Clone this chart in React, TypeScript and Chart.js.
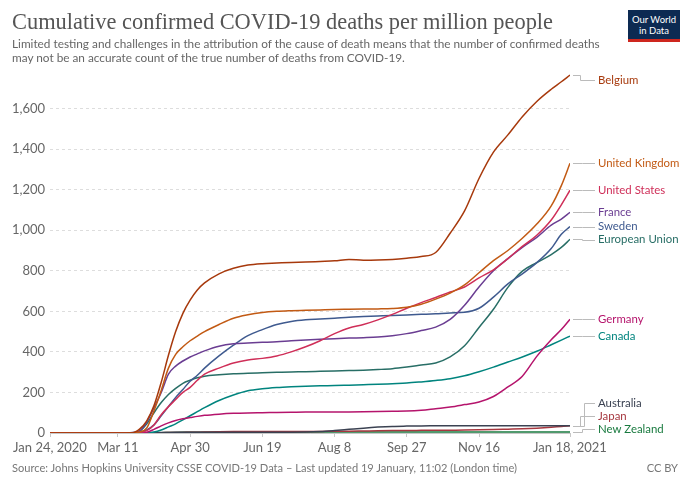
import React, { useEffect, useRef } from "react";
import { Chart, registerables } from "chart.js";

Chart.register(...registerables);

// Day offsets from Jan 24, 2020
const days = [0, 40, 47, 52, 57, 62, 67, 72, 77, 82, 87, 92, 97, 102, 107, 117, 127, 137, 147, 157, 167, 177, 187, 197, 207, 217, 227, 237, 247, 257, 267, 277, 287, 297, 307, 317, 327, 337, 347, 354, 360];

const tickDays = [0, 47, 97, 147, 197, 247, 297, 360];
const tickLabels = ["Jan 24, 2020", "Mar 11", "Apr 30", "Jun 19", "Aug 8", "Sep 27", "Nov 16", "Jan 18, 2021"];
const yTicks = [0, 200, 400, 600, 800, 1000, 1200, 1400, 1600];

const belgium = [0, 0, 0, 0.3, 1, 19, 60, 135, 250, 383, 500, 590, 655, 705, 740, 785, 812, 828, 835, 838, 841, 843, 846, 849, 856, 852, 853, 856, 862, 870, 890, 985, 1095, 1255, 1385, 1470, 1560, 1635, 1695, 1732, 1765];
const unitedKingdom = [0, 0, 0, 0.2, 1, 5, 25, 110, 210, 320, 388, 425, 455, 478, 500, 535, 566, 583, 594, 600, 603, 605, 607, 609, 610, 611, 612, 614, 620, 635, 660, 690, 730, 790, 850, 900, 960, 1030, 1120, 1220, 1330];
const unitedStates = [0, 0, 0, 0.1, 0.5, 3, 12, 40, 90, 130, 165, 200, 225, 260, 290, 320, 345, 360, 368, 380, 400, 425, 455, 490, 518, 535, 558, 585, 615, 643, 668, 695, 720, 765, 805, 860, 920, 975, 1050, 1125, 1197];
const france = [0, 0, 0.1, 0.5, 2, 10, 55, 125, 200, 290, 330, 355, 375, 390, 405, 428, 440, 444, 447, 450, 455, 459, 462, 465, 468, 470, 473, 480, 490, 505, 522, 560, 630, 720, 800, 860, 915, 965, 1025, 1055, 1088];
const sweden = [0, 0, 0, 0, 0.5, 3, 15, 40, 85, 130, 175, 215, 255, 285, 320, 380, 433, 480, 510, 535, 550, 558, 562, 566, 571, 574, 577, 580, 582, 585, 588, 592, 595, 615, 670, 735, 785, 840, 910, 980, 1018];
const europeanUnion = [0, 0, 0, 0.3, 1.5, 8, 45, 100, 150, 190, 220, 245, 260, 272, 280, 287, 292, 295, 297, 299, 301, 302, 304, 306, 308, 310, 313, 317, 325, 335, 345, 375, 430, 520, 610, 718, 798, 840, 880, 915, 955];
const germany = [0, 0, 0, 0, 0, 0.5, 4, 18, 35, 50, 62, 70, 76, 82, 87, 93, 97, 99, 100, 101, 102, 103, 103, 103, 104, 105, 106, 107, 108, 112, 120, 128, 140, 153, 180, 227, 280, 378, 460, 510, 561];
const canada = [0, 0, 0, 0, 0, 0.2, 1, 5, 15, 30, 45, 65, 85, 105, 125, 160, 187, 208, 218, 224, 228, 231, 233, 234, 236, 238, 240, 243, 246, 252, 259, 268, 282, 302, 325, 350, 375, 403, 435, 458, 478];
const australia = [0, 0, 0, 0, 0, 0.5, 1, 2, 2.5, 3, 3.4, 3.5, 3.6, 3.7, 3.8, 3.9, 4, 4, 4, 4, 4, 4.5, 7, 12, 18, 24, 29, 32.5, 34, 35, 35.2, 35.3, 35.4, 35.5, 35.6, 35.7, 35.8, 35.9, 36, 36.1, 36.2];
const japan = [0, 0, 0, 0, 0.1, 0.3, 0.5, 0.9, 1.5, 2, 2.5, 3, 3.3, 3.9, 4.5, 5.8, 6.8, 7.2, 7.5, 7.6, 7.7, 7.8, 7.9, 8.5, 9, 10, 11, 11.8, 12.5, 13, 13.5, 14, 14.5, 15.5, 17, 19, 21, 24, 28, 31.5, 35.4];
const newZealand = [0, 0, 0, 0, 0, 0.1, 0.2, 0.5, 1.5, 2.2, 3, 3.6, 3.9, 4.1, 4.3, 4.5, 4.5, 4.5, 4.5, 4.5, 4.6, 4.6, 4.6, 4.7, 4.8, 4.9, 5, 5, 5, 5, 5, 5, 5, 5.1, 5.1, 5.1, 5.1, 5.2, 5.2, 5.2, 5.2];

const seriesNames = ["Belgium", "United Kingdom", "United States", "France", "Sweden", "European Union", "Germany", "Canada", "Australia", "Japan", "New Zealand"];
const seriesValues = [belgium, unitedKingdom, unitedStates, france, sweden, europeanUnion, germany, canada, australia, japan, newZealand];
const seriesColors = ["#a7390c", "#c25a14", "#cf2e58", "#6a3d92", "#3f5a8f", "#286e66", "#b5146c", "#00847e", "#3b4252", "#a6373f", "#197a3f"];

const LABEL_FONT = "11.4px Lato, 'Noto Sans', sans-serif";

const endLabels = {
  id: "endLabels",
  afterDatasetsDraw(chart: any) {
    const ctx = chart.ctx;
    const area = chart.chartArea;
    const items: any[] = [];
    chart.data.datasets.forEach((ds: any, i: number) => {
      const meta = chart.getDatasetMeta(i);
      const pt = meta.data[meta.data.length - 1];
      items.push({ name: ds.label, color: ds.borderColor, x: pt.x, y: pt.y, ly: pt.y });
    });
    items.sort((a, b) => a.y - b.y);
    const gap = 13;
    const top = area.top + 10;
    const bottom = area.bottom - 4;
    for (let i = 0; i < items.length; i++) {
      if (i === 0) items[i].ly = Math.max(items[i].ly, top);
      else items[i].ly = Math.max(items[i].ly, items[i - 1].ly + gap);
    }
    if (items[items.length - 1].ly > bottom) {
      items[items.length - 1].ly = bottom;
      for (let i = items.length - 2; i >= 0; i--) {
        items[i].ly = Math.min(items[i].ly, items[i + 1].ly - gap);
      }
    }
    ctx.save();
    ctx.font = LABEL_FONT;
    ctx.textBaseline = "middle";
    ctx.textAlign = "left";
    items.forEach((it, idx) => {
      const x0 = it.x + 3;
      const kx = Math.abs(it.ly - it.y) > 1 ? it.x + 10 + (idx % 3) * 2 : it.x + 12;
      const x1 = it.x + 25;
      ctx.strokeStyle = "#bbbbbb";
      ctx.lineWidth = 1;
      ctx.beginPath();
      ctx.moveTo(x0, Math.round(it.y) + 0.5);
      ctx.lineTo(kx + 0.5, Math.round(it.y) + 0.5);
      ctx.lineTo(kx + 0.5, Math.round(it.ly) + 0.5);
      ctx.lineTo(x1, Math.round(it.ly) + 0.5);
      ctx.stroke();
      ctx.fillStyle = it.color;
      ctx.fillText(it.name, it.x + 28, it.ly);
    });
    ctx.restore();
  },
};

export default function App() {
  const ref = useRef<HTMLCanvasElement>(null);
  useEffect(() => {
    if (!ref.current) return;
    const chart = new Chart(ref.current, {
      type: "line",
      data: {
        datasets: seriesNames.map((name, i) => ({
          label: name,
          data: days.map((d, j) => ({ x: d, y: seriesValues[i][j] })),
          borderColor: seriesColors[i],
          backgroundColor: seriesColors[i],
          borderWidth: 1.5,
          pointRadius: 0,
          cubicInterpolationMode: "monotone" as const,
          fill: false,
        })),
      },
      options: {
        responsive: false,
        animation: false,
        layout: { padding: { left: 0, right: 120, top: 70, bottom: 32 } },
        plugins: { legend: { display: false }, tooltip: { enabled: false } },
        scales: {
          x: {
            type: "linear",
            min: 0,
            max: 360,
            afterBuildTicks: (scale: any) => {
              scale.ticks = tickDays.map((v) => ({ value: v }));
            },
            afterFit: (scale: any) => {
              scale.height = 22;
            },
            ticks: {
              autoSkip: false,
              maxRotation: 0,
              padding: 3,
              color: "#666",
              font: { family: "Lato, 'Noto Sans', sans-serif", size: 13 },
              callback: (_v: any, i: number) => tickLabels[i],
            },
            grid: { display: true, drawOnChartArea: false, drawTicks: true, tickLength: 4, color: "#c8c8c8" },
            border: { display: true, color: "#c8c8c8" },
          },
          y: {
            type: "linear",
            min: 0,
            max: 1790,
            afterBuildTicks: (scale: any) => {
              scale.ticks = yTicks.map((v) => ({ value: v }));
            },
            afterFit: (scale: any) => {
              scale.width = 50;
            },
            ticks: {
              padding: 5,
              color: "#666",
              font: { family: "Lato, 'Noto Sans', sans-serif", size: 13 },
              callback: (v: any) => Number(v).toLocaleString("en-US"),
            },
            grid: { color: "#dddddd", drawTicks: false, tickLength: 0 },
            border: { display: false, dash: [3, 3] },
          },
        },
      },
      plugins: [endLabels],
    });
    return () => chart.destroy();
  }, []);

  return (
    <div style={{ position: "absolute", left: 0, top: 0, width: 690, height: 487, background: "#fff", overflow: "hidden" }}>
      <canvas ref={ref} width={690} height={487} style={{ position: "absolute", left: 0, top: 0 }} />
      <div style={{ position: "absolute", left: 12, top: 8, font: "22.4px 'Liberation Serif', serif", color: "#555", whiteSpace: "nowrap", lineHeight: "28px" }}>
        Cumulative confirmed COVID-19 deaths per million people
      </div>
      <div style={{ position: "absolute", left: 12, top: 37, font: "11.8px Lato, 'Noto Sans', sans-serif", color: "#666", lineHeight: "14px", whiteSpace: "nowrap" }}>
        <div>Limited testing and challenges in the attribution of the cause of death means that the number of confirmed deaths</div>
        <div>may not be an accurate count of the true number of deaths from COVID-19.</div>
      </div>
      <div style={{ position: "absolute", left: 628, top: 10, width: 52, height: 32, background: "#0d2a52", color: "#fff", font: "9.5px Lato, 'Noto Sans', sans-serif", textAlign: "center", lineHeight: "11px", paddingTop: 4, boxSizing: "border-box", borderBottom: "3px solid #ce261e" }}>
        <div>Our World</div>
        <div>in Data</div>
      </div>
      <div style={{ position: "absolute", left: 12, top: 461, font: "11.1px Lato, 'Noto Sans', sans-serif", color: "#777", whiteSpace: "nowrap" }}>
        Source: Johns Hopkins University CSSE COVID-19 Data – Last updated 19 January, 11:02 (London time)
      </div>
      <div style={{ position: "absolute", right: 12, top: 461, font: "11.1px Lato, 'Noto Sans', sans-serif", color: "#777", whiteSpace: "nowrap" }}>
        CC BY
      </div>
    </div>
  );
}
